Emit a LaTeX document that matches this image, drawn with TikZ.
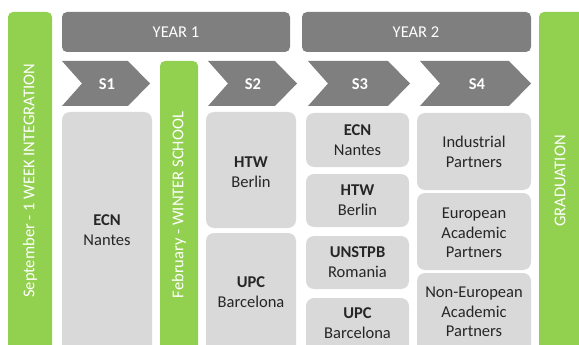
\documentclass[tikz,border=0pt]{standalone}
\usepackage{fontspec}
\setmainfont{Carlito}
\definecolor{dgray}{HTML}{7F7F7F}
\definecolor{lgray}{HTML}{D9D9D9}
\definecolor{lgreen}{HTML}{92D050}
\definecolor{txt}{HTML}{262626}
\begin{document}
\begin{tikzpicture}[x=1pt,y=-1pt,
  greenbar/.style={fill=lgreen, rounded corners=5pt},
  yearbar/.style={fill=dgray, rounded corners=5pt},
  chev/.style={fill=dgray},
  lbox/.style={fill=lgray, rounded corners=8pt},
  wtxt/.style={text=white, font=\fontsize{16.5}{19}\selectfont},
  stxt/.style={text=white, font=\fontsize{16.5}{19}\selectfont\bfseries},
  btxt/.style={text=txt, align=center, font=\fontsize{16.5}{19.5}\selectfont},
  rtxt/.style={text=white, rotate=90, font=\fontsize{16.5}{19}\selectfont}]
\useasboundingbox (0,0) rectangle (579,345);
\clip (0,0) rectangle (579,345);
% green bars
\path[greenbar] (8,12) rectangle (52,360);
\node[rtxt] (sept) at (30,181) {September - 1 WEEK INTEGRATION};
\path[greenbar] (160,61) rectangle (198,360);
\node[rtxt] (feb) at (179,205) {February - WINTER SCHOOL};
\path[greenbar] (539,12) rectangle (590,360);
\node[rtxt] (grad) at (560,181) {GRADUATION};
% year bars
\path[yearbar] (62,12) rectangle (290,52);
\node[wtxt] (y1) at (176,32) {YEAR 1};
\path[yearbar] (302,12) rectangle (531,52);
\node[wtxt] (y2) at (416,32) {YEAR 2};
% chevrons
\foreach \a/\b/\c/\n in {62/150/107/S1, 208/297/253/S2, 308/410/360/S3, 420/531/477/S4}{
  \path[chev] (\a,61) -- (\b-22,61) -- (\b,83.5) -- (\b-22,106) -- (\a,106) -- (\a+20,83.5) -- cycle;
  \node[stxt] (\n) at (\c,84) {\n};
}
% S1
\path[lbox] (62,112) rectangle (152,360);
\node[btxt] (s1a) at (107,230) {\textbf{ECN}\\Nantes};
% S2
\path[lbox] (206,112) rectangle (296,228);
\node[btxt] (s2a) at (251,172) {\textbf{HTW}\\Berlin};
\path[lbox] (206,233) rectangle (296,360);
\node[btxt] (s2b) at (251,292) {\textbf{UPC}\\Barcelona};
% S3
\path[lbox] (306,113) rectangle (409,167);
\node[btxt] (s3a) at (357.5,140) {\textbf{ECN}\\Nantes};
\path[lbox] (306,174) rectangle (409,227);
\node[btxt] (s3b) at (357.5,200) {\textbf{HTW}\\Berlin};
\path[lbox] (306,236) rectangle (409,289);
\node[btxt] (s3c) at (357.5,262) {\textbf{UNSTPB}\\Romania};
\path[lbox] (306,298) rectangle (409,360);
\node[btxt] (s3d) at (357.5,323) {\textbf{UPC}\\Barcelona};
% S4
\path[lbox] (417,113) rectangle (531,190);
\node[btxt] (s4a) at (474,152) {Industrial\\Partners};
\path[lbox] (417,193) rectangle (531,270);
\node[btxt] (s4b) at (474,233) {European\\Academic\\Partners};
\path[lbox] (417,273) rectangle (531,360);
\node[btxt] (s4c) at (474,312) {Non-European\\Academic\\Partners};
\end{tikzpicture}
\end{document}
